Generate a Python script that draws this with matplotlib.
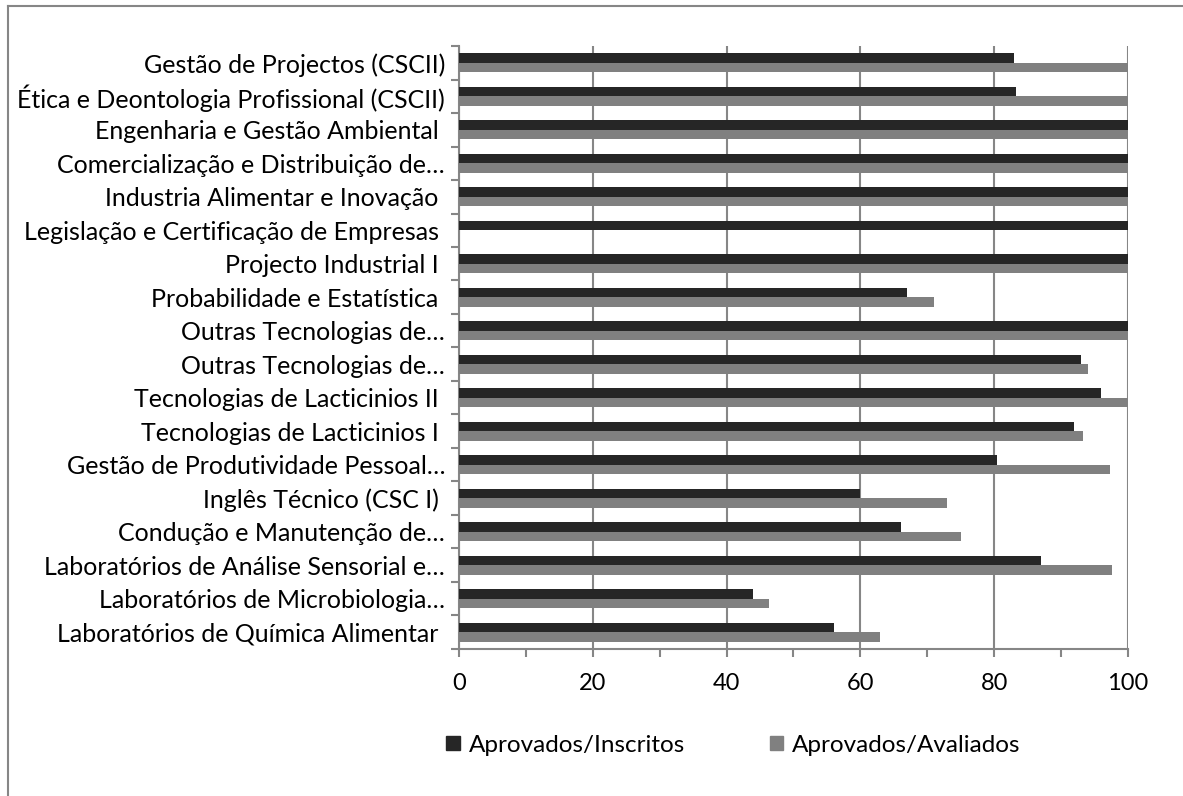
import numpy as np
import matplotlib.pyplot as plt
from matplotlib.lines import Line2D
from matplotlib.ticker import MultipleLocator

plt.rcParams['font.family'] = ['Lato', 'DejaVu Sans']

# disciplinas, de cima para baixo
disciplinas = [
    'Gestão de Projectos (CSCII)',
    'Ética e Deontologia Profissional (CSCII)',
    'Engenharia e Gestão Ambiental ',
    'Comercialização e Distribuição de…',
    'Industria Alimentar e Inovação ',
    'Legislação e Certificação de Empresas ',
    'Projecto Industrial I ',
    'Probabilidade e Estatística ',
    'Outras Tecnologias de…',
    'Outras Tecnologias de…',
    'Tecnologias de Lacticinios II ',
    'Tecnologias de Lacticinios I ',
    'Gestão de Produtividade Pessoal…',
    'Inglês Técnico (CSC I) ',
    'Condução e Manutenção de…',
    'Laboratórios de Análise Sensorial e…',
    'Laboratórios de Microbiologia…',
    'Laboratórios de Química Alimentar ',
]
aprov_inscritos = [83.0, 83.3, 100, 100, 100, 100, 100, 67.0, 100, 93.0,
                   96.0, 91.9, 80.4, 60.0, 66.0, 87.0, 44.0, 56.0]
aprov_avaliados = [100, 100, 100, 100, 100, 0, 100, 71.0, 100, 94.0,
                   100, 93.3, 97.3, 73.0, 75.0, 97.6, 46.4, 63.0]
series = ['Aprovados/Inscritos', 'Aprovados/Avaliados']
cores = ['#262626', '#808080']

fig = plt.figure(figsize=(11.83, 7.96), dpi=100)
ax = fig.add_axes([0.388, 0.1847, 0.5655, 0.7575])

n = len(disciplinas)
y = np.arange(n)[::-1]
h = 0.29
ax.barh(y + h / 2, aprov_inscritos, height=h, color=cores[0], zorder=3)
ax.barh(y - h / 2, aprov_avaliados, height=h, color=cores[1], zorder=3)

ax.set_xlim(0, 100)
ax.set_ylim(-0.5, n - 0.5)
ax.xaxis.set_major_locator(MultipleLocator(20))
ax.xaxis.set_minor_locator(MultipleLocator(10))
ax.grid(axis='x', which='major', color='#868686', lw=1.5, zorder=0)

ax.set_yticks(y)
ax.set_yticklabels(disciplinas, fontsize=18)
ax.set_yticks(np.arange(n + 1) - 0.5, minor=True)
ax.tick_params(axis='y', which='major', length=0, pad=10)
ax.tick_params(axis='y', which='minor', length=6, width=1.5, color='#868686')
ax.tick_params(axis='x', which='both', length=6, width=1.5, color='#868686',
               labelsize=17, pad=11)

for s in ['top', 'right']:
    ax.spines[s].set_visible(False)
for s in ['left', 'bottom']:
    ax.spines[s].set_color('#868686')
    ax.spines[s].set_linewidth(1.5)

handles = [plt.Rectangle((0, 0), 1, 1, color=c) for c in cores]
fig.legend(handles, series, loc='center', bbox_to_anchor=(0.62, 0.064),
           ncol=2, frameon=False, fontsize=17.5, handlelength=0.55,
           handleheight=0.55, handletextpad=0.37, columnspacing=3.5)

# moldura exterior (só topo e lado esquerdo)
fig.add_artist(Line2D([8 / 1183, 8 / 1183], [0, 1 - 6 / 796],
                      transform=fig.transFigure, color='#868686', lw=1.5))
fig.add_artist(Line2D([8 / 1183, 1], [1 - 6 / 796, 1 - 6 / 796],
                      transform=fig.transFigure, color='#868686', lw=1.5))

fig.savefig('out.png', dpi=100)
